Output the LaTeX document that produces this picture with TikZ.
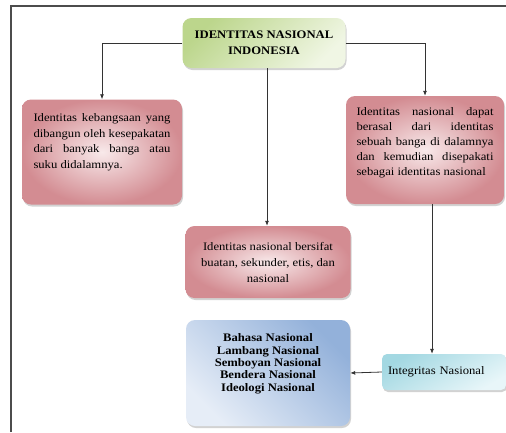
\documentclass[tikz,border=0pt]{standalone}
\usepackage{fontspec}
\setmainfont{Liberation Serif}[FakeStretch=1.1]
\usetikzlibrary{arrows.meta,shadows}
\definecolor{gdark}{HTML}{BCD68C}
\definecolor{glight}{HTML}{F0F6E4}
\definecolor{rdark}{HTML}{D38C92}
\definecolor{rlight}{HTML}{F8E9EA}
\definecolor{bdark}{HTML}{93B1DA}
\definecolor{blight}{HTML}{E6EDF7}
\definecolor{cdark}{HTML}{A3D8E2}
\definecolor{clight}{HTML}{E8F6F9}
\newcommand{\jl}[1]{\makebox[137pt][s]{#1}}
\tikzset{
  boxbase/.style={rounded corners=9pt, inner sep=0pt, font=\fontsize{11.5}{14}\selectfont,
    drop shadow={opacity=0.35, shadow xshift=1pt, shadow yshift=-2pt}},
  greenbox/.style={boxbase, left color=gdark, right color=glight, shading angle=45},
  redbox/.style={boxbase, inner color=rlight, outer color=rdark},
  bluebox/.style={boxbase, left color=bdark, right color=blight, shading angle=-45},
  cyanbox/.style={boxbase, left color=cdark, right color=clight, shading angle=30, rounded corners=5pt},
  conn/.style={draw=black!80, line width=0.8pt, -{Latex[length=5pt,width=4pt]}},
  frameline/.style={draw=black!70, line width=1.6pt}
}
\begin{document}
\begin{tikzpicture}[x=1pt,y=-1pt]
\useasboundingbox (0,0) rectangle (506,432);
\fill[white] (0,0) rectangle (506,432);
\draw[frameline] (11,432) -- (11,6) -- (506,6);

\node[greenbox, minimum width=163pt, minimum height=50pt, align=center,
  font=\fontsize{11.5}{16}\selectfont\bfseries] (top) at (264,43)
  {IDENTITAS NASIONAL\\INDONESIA};

\node[redbox, minimum width=160pt, minimum height=105pt] (left) at (102,152)
  {\parbox[c][76pt][t]{137pt}{\baselineskip=15.5pt
   \jl{Identitas kebangsaan yang}\\
   \jl{dibangun oleh kesepakatan}\\
   \jl{dari banyak banga atau}\\
   suku didalamnya.}};

\node[redbox, minimum width=158pt, minimum height=108pt] (right) at (425,150)
  {\parbox[c][84pt][t]{137pt}{\baselineskip=15pt
   \jl{Identitas nasional dapat}\\
   \jl{berasal dari identitas}\\
   \jl{sebuah banga di dalamnya}\\
   \jl{dan kemudian disepakati}\\
   sebagai identitas nasional}};

\node[redbox, minimum width=165pt, minimum height=72pt, align=center,
  font=\fontsize{11.5}{16}\selectfont] (mid) at (268,262)
  {Identitas nasional bersifat\\buatan, sekunder, etis, dan\\nasional};

\node[bluebox, minimum width=164pt, minimum height=106pt] (bahasa) at (268,373)
  {\parbox[c][78pt][t]{150pt}{\centering\bfseries\baselineskip=12.3pt
   Bahasa Nasional\\Lambang Nasional\\Semboyan Nasional\\Bendera Nasional\\Ideologi Nasional}};

\node[cyanbox, minimum width=124pt, minimum height=36pt, align=left,
  text width=112pt] (integ) at (444,372) {Integritas Nasional\\[3pt]};

\draw[conn] (top.west) -| (left.north);
\draw[conn] (top.east) -| (right.north);
\draw[conn] (top.south) ++(3,0) coordinate (ts) -- (ts |- mid.north);
\draw[conn] (right.south) ++(7,0) coordinate (rs) -- (rs |- integ.north);
\draw[conn] (integ.west) -- (bahasa.east);
\end{tikzpicture}
\end{document}
